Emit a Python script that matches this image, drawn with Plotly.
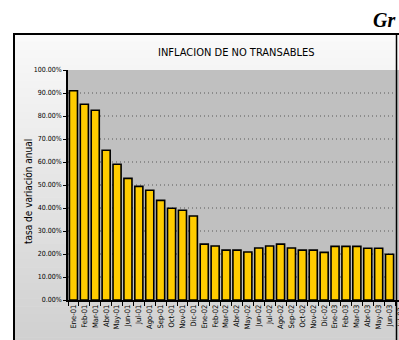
import plotly.graph_objects as go

# ---- data ----
months = ["Ene-01", "Feb-01", "Mar-01", "Abr-01", "May-01", "Jun-01", "Jul-01", "Ago-01",
          "Sep-01", "Oct-01", "Nov-01", "Dic-01", "Ene-02", "Feb-02", "Mar-02", "Abr-02",
          "May-02", "Jun-02", "Jul-02", "Ago-02", "Sep-02", "Oct-02", "Nov-02", "Dic-02",
          "Ene-03", "Feb-03", "Mar-03", "Abr-03", "May-03", "Jun-03"]
next_month = "Jul-03"
inflacion = [0.910, 0.851, 0.825, 0.651, 0.590, 0.529, 0.494, 0.477,
             0.433, 0.399, 0.390, 0.365, 0.243, 0.235, 0.217, 0.217,
             0.209, 0.226, 0.235, 0.243, 0.226, 0.217, 0.217, 0.207,
             0.233, 0.233, 0.233, 0.225, 0.225, 0.199]
y_ticks = [0, 0.1, 0.2, 0.3, 0.4, 0.5, 0.6, 0.7, 0.8, 0.9, 1.0]

title_text = "INFLACION DE NO TRANSABLES"
y_title = "tasa de variación anual"
corner_text = "Gr"

# ---- layout geometry (pixels) ----
W, H = 399, 340
PL, PR, PT, PB = 68, 399, 70, 300
STEP = 10.9  # px per category


def px_x(x):
    return (x - PL) / (PR - PL)


def px_y(y):
    return (PB - y) / (PB - PT)


narrow = "Liberation Sans Narrow, DejaVu Sans Condensed, Arial Narrow, sans-serif"

fig = go.Figure()
fig.add_trace(go.Bar(
    x=list(range(len(months))), y=inflacion,
    marker=dict(color="#FFCC00", line=dict(color="#000000", width=1.6)),
    hoverinfo="skip",
))

shapes = []
# gradient background inside the frame
n_bands = 40
top, bot = 34, 345
for i in range(n_bands):
    y0 = top + (bot - top) * i / n_bands
    y1 = top + (bot - top) * (i + 1) / n_bands + 0.5
    t = i / (n_bands - 1)
    c = int(250 - t * 42)
    shapes.append(dict(type="rect", xref="paper", yref="paper", layer="below",
                       x0=px_x(14), x1=px_x(420), y0=px_y(y1), y1=px_y(y0),
                       fillcolor=f"rgb({c},{c},{c})", line=dict(width=0)))
# plot area background
shapes.append(dict(type="rect", xref="paper", yref="paper", layer="below",
                   x0=0, x1=px_x(420), y0=0, y1=1, fillcolor="#C0C0C0", line=dict(width=0)))
# outer frame: left, top and right edges (bottom lies outside the picture)
shapes.append(dict(type="line", xref="paper", yref="paper", layer="above",
                   x0=px_x(14), x1=px_x(14), y0=px_y(34), y1=px_y(H + 5),
                   line=dict(color="#000000", width=2)))
shapes.append(dict(type="line", xref="paper", yref="paper", layer="above",
                   x0=px_x(13), x1=px_x(420), y0=px_y(34), y1=px_y(34),
                   line=dict(color="#000000", width=2)))
shapes.append(dict(type="line", xref="paper", yref="paper", layer="above",
                   x0=px_x(396.5), x1=px_x(396.5), y0=px_y(34), y1=px_y(H + 5),
                   line=dict(color="#000000", width=1.5)))

annotations = [
    dict(text=title_text, xref="paper", yref="paper", x=px_x(236), y=px_y(52),
         showarrow=False, font=dict(family=narrow, size=11, color="#000"),
         xanchor="center", yanchor="middle"),
    dict(text=y_title, xref="paper", yref="paper", x=px_x(28), y=px_y(192),
         showarrow=False, textangle=-90, font=dict(family=narrow, size=10, color="#000"),
         xanchor="center", yanchor="middle"),
    dict(text=corner_text, xref="paper", yref="paper", x=px_x(371), y=px_y(20),
         showarrow=False, font=dict(family="Liberation Serif, serif", size=20, color="#000",
                                    weight="bold", style="italic"),
         xanchor="left", yanchor="middle"),
    dict(text=next_month, xref="paper", yref="paper", x=px_x(PL + (len(months) + 0.5) * STEP),
         y=px_y(317), showarrow=False, textangle=-90,
         font=dict(family=narrow, size=7.5, color="#000"), xanchor="center", yanchor="middle"),
]

fig.update_layout(
    width=W, height=H, autosize=False,
    margin=dict(l=PL, r=W - PR, t=PT, b=H - PB, pad=0),
    paper_bgcolor="#FFFFFF", plot_bgcolor="rgba(0,0,0,0)",
    showlegend=False, bargap=0.26,
    shapes=shapes, annotations=annotations,
    xaxis=dict(
        type="category", categoryorder="array", categoryarray=list(range(len(months))),
        range=[-0.5, -0.5 + (PR - PL) / STEP],
        tickmode="array", tickvals=list(range(len(months))), ticktext=months,
        tickangle=-90, tickfont=dict(family=narrow, size=7.5, color="#000"),
        tickson="boundaries",
        showgrid=False, zeroline=False,
        showline=True, linecolor="#000", linewidth=1.5,
        ticks="outside", ticklen=4, tickcolor="#000", tickwidth=1,
    ),
    yaxis=dict(
        range=[0, 1.0], tickmode="array", tickvals=y_ticks, tickformat=".2%",
        tickfont=dict(family=narrow, size=7, color="#000"),
        showgrid=True, gridcolor="#8c8c8c", griddash="1px,3px", gridwidth=1.5,
        zeroline=False, showline=True, linecolor="#000", linewidth=1.5,
        ticks="outside", ticklen=3, tickcolor="#000", tickwidth=1,
    ),
)

fig.write_html("out.html")
